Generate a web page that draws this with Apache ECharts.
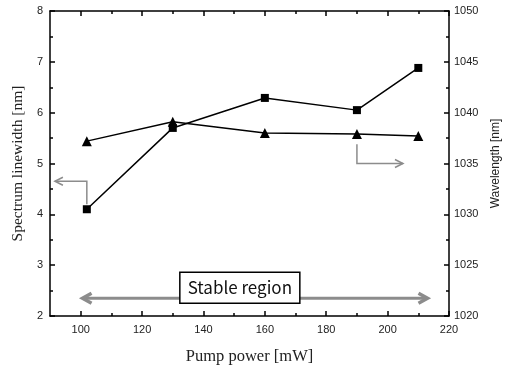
<!DOCTYPE html>
<html>
<head>
<meta charset="utf-8">
<script src="https://cdn.jsdelivr.net/npm/echarts@6/dist/echarts.min.js"></script>
<style>
  html, body { margin: 0; background: #fff; }
  #chart { width: 508px; height: 367px; }
</style>
</head>
<body>
<div id="chart"></div>
<script>
// values
const pumpPower = [102, 130, 160, 190, 210];
const linewidth = [4.10, 5.70, 6.29, 6.05, 6.88];
const wavelength = [1037.2, 1039.1, 1038.0, 1037.9, 1037.7];

const xMajor = [100, 120, 140, 160, 180, 200, 220];
const xMinor = [110, 130, 150, 170, 190, 210];

// annotation anchors (data coords)
const leftArrow = [[102, 4.2], [102, 4.65], [91.6, 4.65]];      // left axis
const rightArrow = [[190, 1036.9], [190, 1035], [205, 1035]];   // right axis
const stableArrow = [[100.6, 2.35], [213, 2.35]];               // left axis
const stableBox = [[132.3, 2.86], [171.4, 2.25]];               // left axis

const chart = echarts.init(document.getElementById('chart'));
const tickFont = { color: '#222', fontFamily: 'Liberation Sans', fontSize: 11, formatter: (v) => String(v) };
const black = { color: '#000', width: 1.5 };

const xBase = { type: 'value', min: 90, max: 220, splitLine: { show: false } };

chart.setOption({
  animation: false,
  backgroundColor: '#fff',
  grid: { left: 50, top: 11, width: 399, height: 305, containLabel: false, outerBoundsMode: 'none' },
  xAxis: [
    {
      ...xBase, position: 'bottom',
      name: 'Pump power [mW]', nameLocation: 'middle', nameGap: 32,
      nameTextStyle: { fontFamily: 'Liberation Serif', fontSize: 16.5, color: '#222' },
      axisLine: { lineStyle: black },
      axisTick: { inside: true, length: 5, customValues: xMajor, lineStyle: black },
      axisLabel: { ...tickFont, margin: 8, customValues: xMajor }
    },
    {
      ...xBase, position: 'bottom',
      axisLine: { show: false },
      axisTick: { inside: true, length: 3, customValues: xMinor, lineStyle: black },
      axisLabel: { show: false }
    },
    {
      ...xBase, position: 'top',
      axisLine: { lineStyle: black },
      axisTick: { inside: true, length: 5, customValues: xMajor, lineStyle: black },
      axisLabel: { show: false }
    },
    {
      ...xBase, position: 'top',
      axisLine: { show: false },
      axisTick: { inside: true, length: 3, customValues: xMinor, lineStyle: black },
      axisLabel: { show: false }
    }
  ],
  yAxis: [
    {
      type: 'value', min: 2, max: 8, interval: 1, position: 'left',
      name: 'Spectrum linewidth [nm]', nameLocation: 'middle', nameGap: 20,
      nameTextStyle: { fontFamily: 'Liberation Serif', fontSize: 15.5, color: '#222' },
      axisLine: { show: true, lineStyle: black },
      axisTick: { inside: true, length: 5, lineStyle: black },
      minorTick: { show: true, splitNumber: 2, length: 3, lineStyle: black },
      axisLabel: { ...tickFont, margin: 7 },
      splitLine: { show: false }
    },
    {
      type: 'value', min: 1020, max: 1050, interval: 5, position: 'right',
      name: 'Wavelength [nm]', nameLocation: 'middle', nameGap: 39,
      nameTextStyle: { fontFamily: 'Liberation Sans', fontSize: 12, color: '#222' },
      axisLine: { show: true, lineStyle: black },
      axisTick: { inside: true, length: 5, lineStyle: black },
      minorTick: { show: true, splitNumber: 2, length: 3, lineStyle: black },
      axisLabel: { ...tickFont, margin: 5 },
      splitLine: { show: false }
    }
  ],
  series: [
    {
      type: 'line', xAxisIndex: 0, yAxisIndex: 0,
      data: pumpPower.map((p, i) => [p, linewidth[i]]),
      symbol: 'rect', symbolSize: 8,
      lineStyle: { color: '#000', width: 1.5 },
      itemStyle: { color: '#000' }
    },
    {
      type: 'line', xAxisIndex: 0, yAxisIndex: 1,
      data: pumpPower.map((p, i) => [p, wavelength[i]]),
      symbol: 'triangle', symbolSize: 10,
      lineStyle: { color: '#000', width: 1.5 },
      itemStyle: { color: '#000' }
    }
  ]
});

const L = (pt) => chart.convertToPixel({ xAxisIndex: 0, yAxisIndex: 0 }, pt);
const R = (pt) => chart.convertToPixel({ xAxisIndex: 0, yAxisIndex: 1 }, pt);
const gray = '#8c8c8c';

function chevron(tip, dir, len, half, width) {
  const [dx, dy] = dir;
  const bx = tip[0] - dx * len, by = tip[1] - dy * len;
  return {
    type: 'polyline',
    shape: { points: [[bx - dy * half, by + dx * half], tip, [bx + dy * half, by - dx * half]] },
    style: { stroke: gray, lineWidth: width, fill: null }
  };
}

const lp = leftArrow.map(L);
const rp = rightArrow.map(R);
const sp = stableArrow.map(L);
const b0 = L(stableBox[0]), b1 = L(stableBox[1]);

chart.setOption({
  graphic: [
    { type: 'polyline', shape: { points: lp }, style: { stroke: gray, lineWidth: 1.5, fill: null } },
    chevron(lp[2], [-1, 0], 8, 4, 1.5),
    { type: 'polyline', shape: { points: rp }, style: { stroke: gray, lineWidth: 1.5, fill: null } },
    chevron(rp[2], [1, 0], 8, 4, 1.5),
    { type: 'line', shape: { x1: sp[0][0] + 2, y1: sp[0][1], x2: sp[1][0] - 2, y2: sp[1][1] }, style: { stroke: gray, lineWidth: 3 } },
    chevron(sp[0], [-1, 0], 9, 5, 3.5),
    chevron(sp[1], [1, 0], 9, 5, 3.5),
    {
      type: 'rect',
      shape: { x: b0[0], y: b0[1], width: b1[0] - b0[0], height: b1[1] - b0[1] },
      style: { fill: '#fff', stroke: '#000', lineWidth: 1.5 }
    },
    {
      type: 'text',
      x: (b0[0] + b1[0]) / 2, y: (b0[1] + b1[1]) / 2,
      style: {
        text: 'Stable region', fill: '#111', fontSize: 17,
        fontFamily: 'Noto Sans CJK KR', align: 'center', verticalAlign: 'middle'
      }
    }
  ]
});
</script>
</body>
</html>
